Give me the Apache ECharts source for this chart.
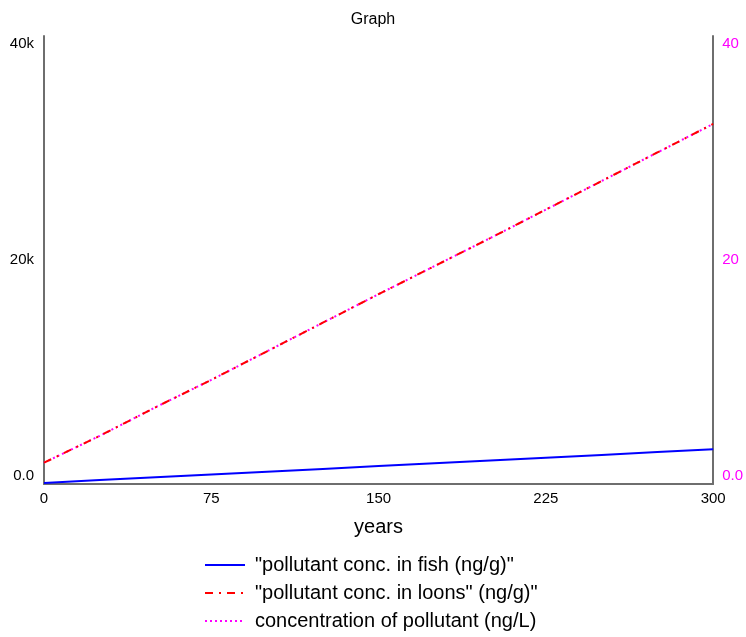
<!DOCTYPE html>
<html>
<head>
<meta charset="utf-8">
<script src="https://cdn.jsdelivr.net/npm/echarts@6/dist/echarts.min.js"></script>
<style>html,body{margin:0;padding:0;background:#fff;}#c{width:746px;height:637px;}</style>
</head>
<body>
<div id="c"></div>
<script>
const years = [0, 25, 50, 75, 100, 125, 150, 175, 200, 225, 250, 275, 300];
const fish = [100, 350, 600, 850, 1100, 1350, 1600, 1850, 2100, 2350, 2600, 2850, 3100];
const loons = [1900, 4300, 6850, 9300, 11850, 14400, 16950, 19450, 21950, 24500, 27050, 29600, 32150];
const concentration = [1.9, 4.3, 6.85, 9.3, 11.85, 14.4, 16.95, 19.45, 21.95, 24.5, 27.05, 29.6, 32.15];
const seriesNames = ['"pollutant conc. in fish (ng/g)"', '"pollutant conc. in loons" (ng/g)"', 'concentration of pollutant (ng/L)'];

const chart = echarts.init(document.getElementById('c'));
const font = 'Liberation Sans, Arial, sans-serif';
const axisLineStyle = { color: '#6e6e6e', width: 2 };
const FS = 15;
const edgeRich = {
  t: { padding: [16, 0, 0, 0], fontFamily: font, fontSize: FS },
  b: { padding: [0, 0, 16, 0], fontFamily: font, fontSize: FS },
  n: { fontFamily: font, fontSize: FS }
};
function rich(color) {
  const r = {};
  for (const k in edgeRich) r[k] = Object.assign({ color: color }, edgeRich[k]);
  return r;
}
chart.setOption({
  animation: false,
  backgroundColor: '#fff',
  textStyle: { fontFamily: font },
  title: { text: 'Graph', left: 'center', top: 7, textStyle: { fontFamily: font, fontSize: 16, fontWeight: 'normal', color: '#000' } },
  grid: { left: 44, right: 32, top: 36, bottom: 153 },
  legend: {
    orient: 'vertical', left: 199, top: 550, height: 90, itemWidth: 40, itemHeight: 14, itemGap: 8,
    itemStyle: { opacity: 0 },
    textStyle: { fontFamily: font, fontSize: 20, color: '#000', padding: [0, 0, 0, 5] },
    data: seriesNames
  },
  xAxis: {
    type: 'value', min: 0, max: 300, interval: 75,
    name: 'years', nameLocation: 'middle', nameGap: 33,
    nameTextStyle: { fontFamily: font, fontSize: 20, color: '#000' },
    axisLine: { lineStyle: axisLineStyle }, axisTick: { show: false }, splitLine: { show: false },
    axisLabel: { color: '#000', fontFamily: font, fontSize: FS, margin: 7 }
  },
  yAxis: [
    {
      type: 'value', min: 0, max: 40000, interval: 20000, position: 'left',
      axisLine: { show: true, lineStyle: axisLineStyle }, axisTick: { show: false }, splitLine: { show: false },
      axisLabel: {
        margin: 10, color: '#000',
        formatter: function (v) {
          if (v === 0) return '{b|0.0}';
          if (v === 40000) return '{t|40k}';
          return '{n|' + (v / 1000) + 'k}';
        },
        rich: rich('#000')
      }
    },
    {
      type: 'value', min: 0, max: 40, interval: 20, position: 'right',
      axisLine: { show: true, lineStyle: axisLineStyle }, axisTick: { show: false }, splitLine: { show: false },
      axisLabel: {
        margin: 9, color: '#ff00ff',
        formatter: function (v) {
          if (v === 0) return '{b|0.0}';
          if (v === 40) return '{t|40}';
          return '{n|' + v + '}';
        },
        rich: rich('#ff00ff')
      }
    }
  ],
  series: [
    { name: seriesNames[0], type: 'line', yAxisIndex: 0, showSymbol: false, symbol: 'none',
      data: years.map((y, i) => [y, fish[i]]), lineStyle: { color: '#0000ff', width: 2 }, itemStyle: { color: '#0000ff' } },
    { name: seriesNames[2], type: 'line', yAxisIndex: 1, showSymbol: false, symbol: 'none',
      data: years.map((y, i) => [y, concentration[i]]), lineStyle: { color: '#ff00ff', width: 2, type: [2, 3] }, itemStyle: { color: '#ff00ff' } },
    { name: seriesNames[1], type: 'line', yAxisIndex: 0, showSymbol: false, symbol: 'none',
      data: years.map((y, i) => [y, loons[i]]), lineStyle: { color: '#ff0000', width: 2, type: [8, 6, 2, 6] }, itemStyle: { color: '#ff0000' } }
  ]
});
</script>
</body>
</html>
